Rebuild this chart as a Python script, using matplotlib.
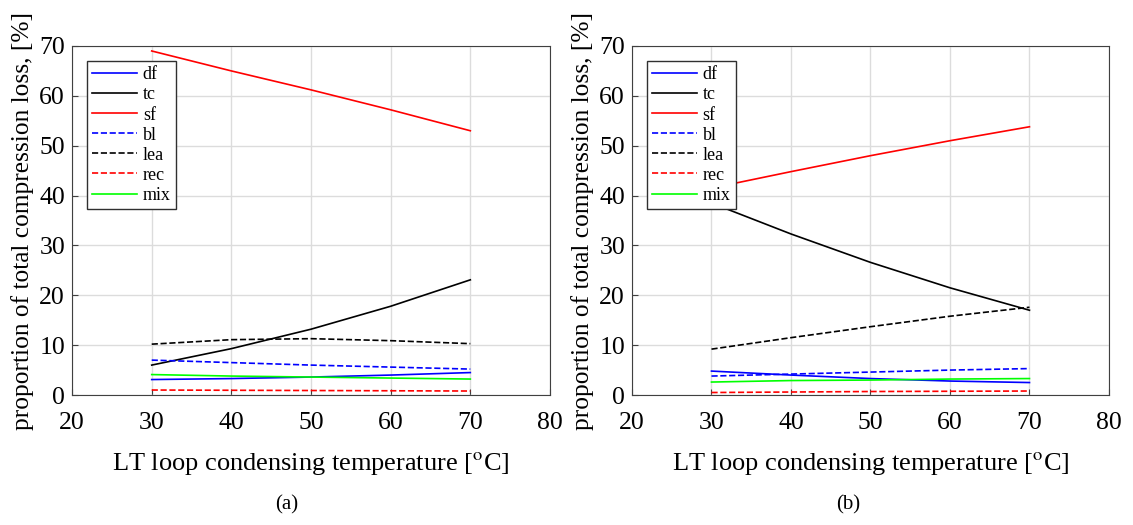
import numpy as np
import matplotlib
matplotlib.use('Agg')
import matplotlib.pyplot as plt

plt.rcParams['font.family'] = ['Liberation Serif', 'DejaVu Serif']
plt.rcParams['mathtext.fontset'] = 'stix'

# condensing temperature [C]
temp = [30, 40, 50, 60, 70]

# (a) proportion of total compression loss [%]
a_df = [3.1, 3.3, 3.6, 4.0, 4.5]
a_tc = [6.0, 9.3, 13.2, 17.8, 23.1]
a_sf = [69.0, 65.0, 61.2, 57.2, 53.0]
a_bl = [7.0, 6.5, 6.0, 5.6, 5.2]
a_lea = [10.2, 11.1, 11.3, 10.9, 10.3]
a_rec = [1.0, 0.95, 0.9, 0.85, 0.8]
a_mix = [4.1, 3.8, 3.6, 3.4, 3.2]

# (b)
b_df = [4.8, 4.0, 3.3, 2.8, 2.5]
b_tc = [38.5, 32.3, 26.6, 21.5, 17.0]
b_sf = [41.5, 44.8, 48.0, 51.0, 53.8]
b_bl = [3.8, 4.2, 4.6, 5.0, 5.3]
b_lea = [9.2, 11.5, 13.7, 15.8, 17.6]
b_rec = [0.5, 0.6, 0.7, 0.75, 0.8]
b_mix = [2.6, 2.9, 3.0, 3.2, 3.3]

labels = ['df', 'tc', 'sf', 'bl', 'lea', 'rec', 'mix']
styles = [('#0000ff', '-'), ('k', '-'), ('#ff0000', '-'),
          ('#0000ff', '--'), ('k', '--'), ('#ff0000', '--'), ('#00ff00', '-')]

fig = plt.figure(figsize=(11.33, 5.25), dpi=100)
ax1 = fig.add_axes([0.0636, 0.2476, 0.4218, 0.6648])
ax2 = fig.add_axes([0.5578, 0.2476, 0.4210, 0.6648])

panels = [(ax1, [a_df, a_tc, a_sf, a_bl, a_lea, a_rec, a_mix], '(a)', 0.2533),
          (ax2, [b_df, b_tc, b_sf, b_bl, b_lea, b_rec, b_mix], '(b)', 0.7485)]

for ax, series, cap, cx in panels:
    for vals, lab, (c, ls) in zip(series, labels, styles):
        ax.plot(temp, vals, color=c, linestyle=ls, lw=1.2, label=lab)
    ax.set_xlim(20, 80)
    ax.set_ylim(0, 70)
    ax.set_xticks(np.arange(20, 81, 10))
    ax.set_yticks(np.arange(0, 71, 10))
    ax.grid(True, color='#dcdcdc', lw=1.0)
    ax.set_axisbelow(True)
    ax.tick_params(direction='in', labelsize=18.5, length=4, color='#404040')
    ax.tick_params(axis='x', pad=12)
    ax.tick_params(axis='y', pad=5)
    for s in ax.spines.values():
        s.set_color('#404040')
    ax.set_xlabel(r'LT loop condensing temperature [$^{\mathrm{o}}$C]', fontsize=19, labelpad=12)
    ax.set_ylabel('proportion of total compression loss, [%]', fontsize=18.3, labelpad=4)
    leg = ax.legend(loc='upper left', bbox_to_anchor=(0.031, 0.957), fontsize=13,
                    handlelength=2.5, handletextpad=0.3, labelspacing=0.17,
                    borderpad=0.3, borderaxespad=0, fancybox=False, framealpha=1)
    leg.get_frame().set_edgecolor('#303030')
    leg.get_frame().set_linewidth(1.0)
    fig.text(cx, 0.038, cap, ha='center', va='center', fontsize=15)

fig.savefig('out.png', dpi=100)
